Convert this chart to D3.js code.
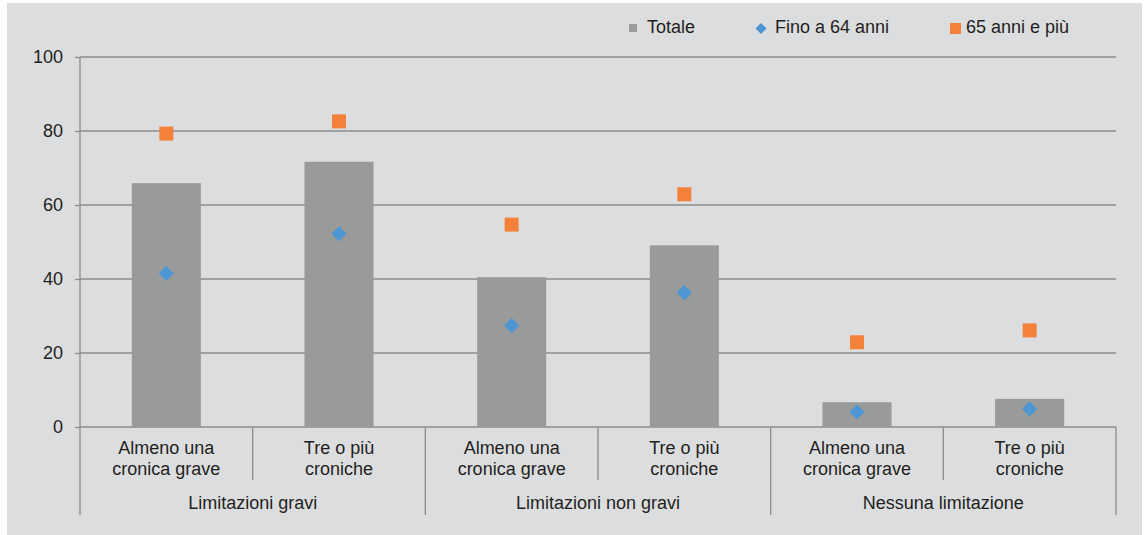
<!DOCTYPE html>
<html>
<head>
<meta charset="utf-8">
<script src="https://cdn.jsdelivr.net/npm/d3@7"></script>
<style>
  body { margin: 0; background: #ffffff; }
  text { font-family: "Liberation Sans", Arial, sans-serif; fill: #231f20; }
</style>
</head>
<body>
<div id="graph_draw"></div>
<script>
// data
var groups = ["Limitazioni gravi", "Limitazioni non gravi", "Nessuna limitazione"];
var subLabels = [["Almeno una", "cronica grave"], ["Tre o più", "croniche"]];
var categories = ["g1a", "g1b", "g2a", "g2b", "g3a", "g3b"];
var totale = [65.9, 71.7, 40.5, 49.1, 6.7, 7.6];
var fino64 = [41.5, 52.2, 27.4, 36.3, 4.1, 4.9];
var over65 = [79.3, 82.6, 54.7, 62.9, 22.9, 26.1];
var yTicks = [0, 20, 40, 60, 80, 100];
var seriesNames = ["Totale", "Fino a 64 anni", "65 anni e più"];

var colBar = "#999b9b", colBlue = "#4e96d3", colOrange = "#f4813a", colLine = "#8a8b8c";
var fs = "18px";

// set the dimensions and margins
var W = 1147, H = 535;
var margin = {top: 57, right: 31, bottom: 108, left: 80},
    width = W - margin.left - margin.right,
    height = H - margin.top - margin.bottom;

var svg = d3.select("#graph_draw").append("svg")
    .attr("width", W)
    .attr("height", H);

// panel background
svg.append("rect")
    .attr("x", 7).attr("y", 3)
    .attr("width", 1135).attr("height", 532)
    .attr("fill", "#dcdddf");

var g = svg.append("g")
    .attr("transform", "translate(" + margin.left + "," + margin.top + ")");

// scales
var x = d3.scaleBand().domain(categories).range([0, width]).paddingInner(0.6).paddingOuter(0.3);
var xc = d3.scaleBand().domain(categories).range([0, width]);
var y = d3.scaleLinear().domain([0, 100]).range([height, 0]);

// gridlines
g.selectAll(".grid").data(yTicks).enter().append("line")
    .attr("x1", 0).attr("x2", width)
    .attr("y1", function(d) { return y(d); })
    .attr("y2", function(d) { return y(d); })
    .attr("stroke", colLine).attr("stroke-width", 1.3);

// Y axis
var yAxis = g.append("g")
    .call(d3.axisLeft(y).tickValues(yTicks).tickSize(5).tickPadding(12));
yAxis.select(".domain").remove();
yAxis.selectAll("line").attr("stroke", colLine).attr("stroke-width", 1.3);
yAxis.selectAll("text")
    .style("font-family", "'Liberation Sans', Arial, sans-serif")
    .style("font-size", fs)
    .attr("fill", "#231f20");

// bars
g.selectAll(".bar").data(totale).enter().append("rect")
    .attr("x", function(d, i) { return x(categories[i]); })
    .attr("width", x.bandwidth())
    .attr("y", function(d) { return y(d); })
    .attr("height", function(d) { return height - y(d); })
    .attr("fill", colBar);

// 65 anni e più markers (squares)
var sq = 14;
g.selectAll(".sq").data(over65).enter().append("rect")
    .attr("x", function(d, i) { return xc(categories[i]) + xc.bandwidth() / 2 - sq / 2; })
    .attr("y", function(d) { return y(d) - sq / 2; })
    .attr("width", sq).attr("height", sq)
    .attr("fill", colOrange);

// fino a 64 markers (diamonds)
var dm = d3.symbol().type(d3.symbolSquare).size(115);
g.selectAll(".dm").data(fino64).enter().append("path")
    .attr("d", dm)
    .attr("transform", function(d, i) {
        return "translate(" + (xc(categories[i]) + xc.bandwidth() / 2) + "," + y(d) + ") rotate(45)";
    })
    .attr("fill", colBlue);

// left axis line extended down through the category area
g.append("line")
    .attr("x1", 0).attr("x2", 0).attr("y1", 0).attr("y2", height + 88)
    .attr("stroke", colLine).attr("stroke-width", 1.3);

// category separators
categories.forEach(function(c, i) {
    if (i === 0) return;
    var xx = xc(c);
    g.append("line")
        .attr("x1", xx).attr("x2", xx)
        .attr("y1", height).attr("y2", height + (i % 2 === 0 ? 88 : 53))
        .attr("stroke", colLine).attr("stroke-width", 1.3);
});
g.append("line")
    .attr("x1", width).attr("x2", width).attr("y1", height).attr("y2", height + 88)
    .attr("stroke", colLine).attr("stroke-width", 1.3);

// sub category labels
categories.forEach(function(c, i) {
    var lines = subLabels[i % 2];
    var cx = xc(c) + xc.bandwidth() / 2;
    var t = g.append("text")
        .attr("x", cx)
        .attr("y", height + 27)
        .attr("text-anchor", "middle")
        .style("font-size", fs);
    t.append("tspan").attr("x", cx).text(lines[0]);
    t.append("tspan").attr("x", cx).attr("dy", 21).text(lines[1]);
});

// group labels
groups.forEach(function(gr, k) {
    g.append("text")
        .attr("x", xc(categories[k * 2]) + xc.bandwidth())
        .attr("y", height + 82)
        .attr("text-anchor", "middle")
        .style("font-size", fs)
        .text(gr);
});

// legend
var leg = svg.append("g");
leg.append("rect").attr("x", 629).attr("y", 24).attr("width", 8).attr("height", 8).attr("fill", colBar);
leg.append("text").attr("x", 647).attr("y", 33).style("font-size", fs).text(seriesNames[0]);
leg.append("path")
    .attr("d", d3.symbol().type(d3.symbolSquare).size(60))
    .attr("transform", "translate(761,28.5) rotate(45)")
    .attr("fill", colBlue);
leg.append("text").attr("x", 775).attr("y", 33).style("font-size", fs).text(seriesNames[1]);
leg.append("rect").attr("x", 950).attr("y", 23).attr("width", 11).attr("height", 11).attr("fill", colOrange);
leg.append("text").attr("x", 966).attr("y", 33).style("font-size", fs).text(seriesNames[2]);
</script>
</body>
</html>
